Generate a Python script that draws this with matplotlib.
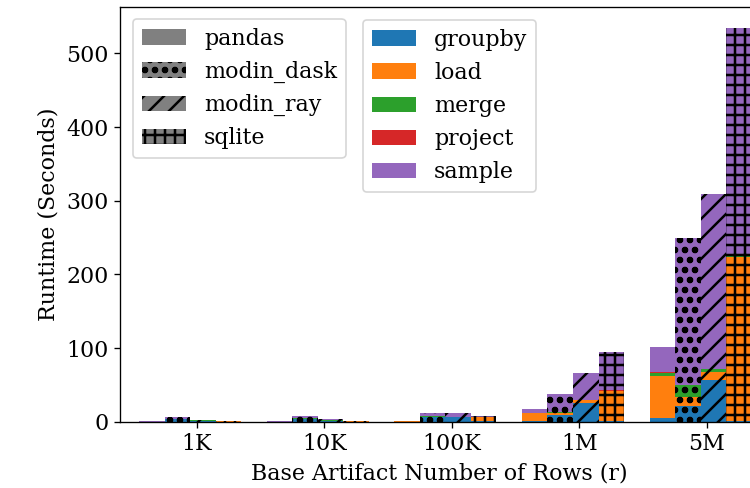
import matplotlib
matplotlib.use("Agg")
import matplotlib.pyplot as plt
from matplotlib.patches import Patch
import numpy as np

DPI = 120
FS = 13.3

plt.rcParams['font.family'] = ['DejaVu Serif']
plt.rcParams['hatch.linewidth'] = 1.5
plt.rcParams['hatch.color'] = 'black'

sizes = ['1K', '10K', '100K', '1M', '5M']
backends = ['pandas', 'modin_dask', 'modin_ray', 'sqlite']
ops = ['groupby', 'load', 'merge', 'project', 'sample']

# runtime (seconds) per backend, per operation, per base size
pandas_groupby = [0.1, 0.1, 0.2, 0.5, 5.5]
pandas_load = [0.1, 0.1, 0.3, 11.5, 56.5]
pandas_merge = [0.05, 0.05, 0.1, 0.3, 4.5]
pandas_project = [0.01, 0.01, 0.02, 0.1, 0.3]
pandas_sample = [0.1, 0.1, 0.3, 4.5, 34.0]

dask_groupby = [3.5, 3.8, 6.0, 8.8, 21.3]
dask_load = [0.5, 0.5, 0.8, 3.5, 12.6]
dask_merge = [0.3, 0.3, 0.4, 1.0, 15.9]
dask_project = [0.03, 0.03, 0.05, 0.1, 0.3]
dask_sample = [2.7, 2.9, 4.1, 24.2, 198.9]

ray_groupby = [1.0, 1.2, 6.0, 25.5, 56.5]
ray_load = [0.3, 0.3, 0.5, 3.5, 11.3]
ray_merge = [0.5, 0.5, 0.3, 1.0, 3.6]
ray_project = [0.03, 0.03, 0.05, 0.1, 0.3]
ray_sample = [0.8, 1.0, 4.5, 35.5, 237.1]

sqlite_groupby = [0.1, 0.1, 0.3, 0.5, 1.0]
sqlite_load = [0.4, 0.5, 6.5, 41.6, 223.0]
sqlite_merge = [0.05, 0.05, 0.1, 0.2, 0.5]
sqlite_project = [0.02, 0.02, 0.05, 0.1, 0.3]
sqlite_sample = [0.2, 0.3, 1.0, 52.0, 309.7]

data = {
    'pandas': [pandas_groupby, pandas_load, pandas_merge, pandas_project, pandas_sample],
    'modin_dask': [dask_groupby, dask_load, dask_merge, dask_project, dask_sample],
    'modin_ray': [ray_groupby, ray_load, ray_merge, ray_project, ray_sample],
    'sqlite': [sqlite_groupby, sqlite_load, sqlite_merge, sqlite_project, sqlite_sample],
}

op_colors = ['#1f77b4', '#ff7f0e', '#2ca02c', '#d62728', '#9467bd']
hatches = ['', 'oo', '//', '++']
offsets = [-0.35, -0.15, 0.05, 0.25]
width = 0.2

fig = plt.figure(figsize=(750 / DPI, 488 / DPI), dpi=DPI)
ax = fig.add_axes([120 / 750, 66.3 / 488, 638 / 750, 414.7 / 488])

x = np.arange(len(sizes))
for b, backend in enumerate(backends):
    bottom = np.zeros(len(sizes))
    for o, op in enumerate(ops):
        vals = np.array(data[backend][o])
        ax.bar(x + offsets[b], vals, width=width, bottom=bottom,
               color=op_colors[o], hatch=hatches[b], linewidth=0)
        bottom += vals

ax.set_xlim(-0.6, 4.4)
ax.set_ylim(0, 563)
ax.set_xticks(x)
ax.set_xticklabels(sizes)
ax.set_yticks([0, 100, 200, 300, 400, 500])
ax.tick_params(labelsize=FS)
ax.set_xlabel('Base Artifact Number of Rows (r)', fontsize=FS)
ax.set_ylabel('Runtime (Seconds)', fontsize=FS)

backend_handles = [Patch(facecolor='gray', hatch=h, label=b, linewidth=0)
                   for b, h in zip(backends, hatches)]
op_handles = [Patch(facecolor=c, label=o, linewidth=0)
              for o, c in zip(ops, op_colors)]

leg1 = ax.legend(handles=backend_handles, loc='upper left',
                 bbox_to_anchor=(133 / 750, 1 - 19 / 488),
                 bbox_transform=fig.transFigure, borderaxespad=0, fontsize=FS)
ax.add_artist(leg1)
ax.legend(handles=op_handles, loc='upper left',
          bbox_to_anchor=(363 / 750, 1 - 20 / 488),
          bbox_transform=fig.transFigure, borderaxespad=0, fontsize=FS)

fig.savefig('out.png', dpi=DPI)
